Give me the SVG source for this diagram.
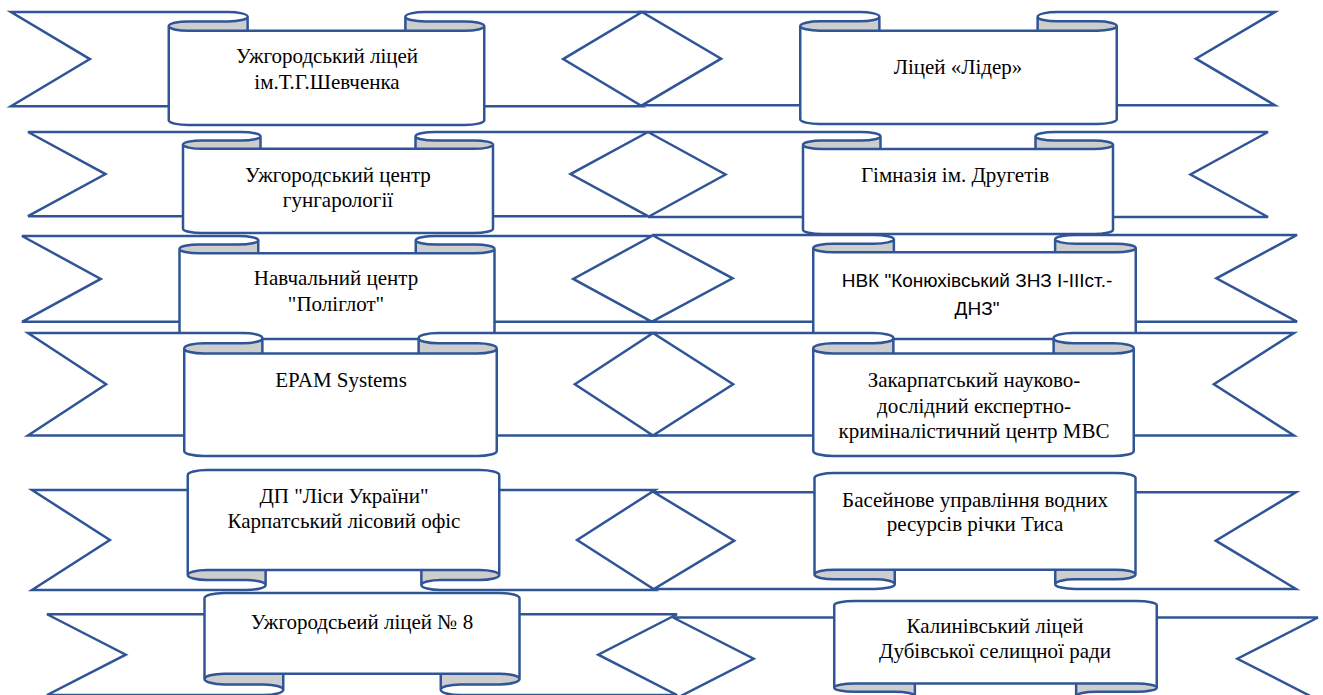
<svg xmlns="http://www.w3.org/2000/svg" xmlns:xlink="http://www.w3.org/1999/xlink" width="1323" height="695" viewBox="0 0 1323 695">
<style>
text{font-family:"Liberation Serif","Times New Roman",serif;font-size:21px;fill:#000;text-anchor:middle}
.sans{font-family:"Liberation Sans",Arial,sans-serif;font-size:19px}
</style>
<defs>
<g id="rd">
<path fill="#fff" stroke="none" d="M0,0 L275,0 A25,25 0 0 1 300,25 A25,25 0 0 1 275,50 L225,50 A25,25 0 0 0 200,75 A25,25 0 0 0 225,100 L575,100 A25,25 0 0 0 600,75 A25,25 0 0 0 575,50 L525,50 A25,25 0 0 1 500,25 A25,25 0 0 1 525,0 L800,0 L700,250 L800,500 L600,500 L600,575 A25,25 0 0 1 575,600 L225,600 A25,25 0 0 1 200,575 L200,500 L0,500 L100,250 Z"/>
<path fill="#cdcdcd" stroke="none" d="M300,25 A25,25 0 0 1 275,50 L225,50 A25,25 0 0 0 200,75 A25,25 0 0 0 225,100 L300,100 Z M500,25 A25,25 0 0 0 525,50 L575,50 A25,25 0 0 1 600,75 A25,25 0 0 1 575,100 L500,100 Z"/>
<path fill="none" stroke="#2f5597" stroke-width="2.5" vector-effect="non-scaling-stroke" d="M0,0 L275,0 A25,25 0 0 1 300,25 A25,25 0 0 1 275,50 L225,50 A25,25 0 0 0 200,75 A25,25 0 0 0 225,100 L575,100 A25,25 0 0 0 600,75 A25,25 0 0 0 575,50 L525,50 A25,25 0 0 1 500,25 A25,25 0 0 1 525,0 L800,0 L700,250 L800,500 L600,500 L600,575 A25,25 0 0 1 575,600 L225,600 A25,25 0 0 1 200,575 L200,500 L0,500 L100,250 Z M300,25 L300,100 M500,100 L500,25 M200,500 L200,75 M600,75 L600,500"/>
</g>
<g id="ru">
<path fill="#fff" stroke="none" d="M0,600 L275,600 A25,25 0 0 0 300,575 A25,25 0 0 0 275,550 L225,550 A25,25 0 0 1 200,525 A25,25 0 0 1 225,500 L575,500 A25,25 0 0 1 600,525 A25,25 0 0 1 575,550 L525,550 A25,25 0 0 0 500,575 A25,25 0 0 0 525,600 L800,600 L700,350 L800,100 L600,100 L600,25 A25,25 0 0 0 575,0 L225,0 A25,25 0 0 0 200,25 L200,100 L0,100 L100,350 Z"/>
<path fill="#cdcdcd" stroke="none" d="M300,575 A25,25 0 0 0 275,550 L225,550 A25,25 0 0 1 200,525 A25,25 0 0 1 225,500 L300,500 Z M500,575 A25,25 0 0 1 525,550 L575,550 A25,25 0 0 0 600,525 A25,25 0 0 0 575,500 L500,500 Z"/>
<path fill="none" stroke="#2f5597" stroke-width="2.5" vector-effect="non-scaling-stroke" d="M0,600 L275,600 A25,25 0 0 0 300,575 A25,25 0 0 0 275,550 L225,550 A25,25 0 0 1 200,525 A25,25 0 0 1 225,500 L575,500 A25,25 0 0 1 600,525 A25,25 0 0 1 575,550 L525,550 A25,25 0 0 0 500,575 A25,25 0 0 0 525,600 L800,600 L700,350 L800,100 L600,100 L600,25 A25,25 0 0 0 575,0 L225,0 A25,25 0 0 0 200,25 L200,100 L0,100 L100,350 Z M300,500 L300,575 M500,575 L500,500 M200,525 L200,100 M600,100 L600,525"/>
</g>
<g id="ru2">
<path fill="#fff" stroke="none" d="M0,600 L275,600 A25,31.25 0 0 0 300,568.75 A25,31.25 0 0 0 275,537.5 L225,537.5 A25,31.25 0 0 1 200,506.25 A25,31.25 0 0 1 225,475 L575,475 A25,31.25 0 0 1 600,506.25 A25,31.25 0 0 1 575,537.5 L525,537.5 A25,31.25 0 0 0 500,568.75 A25,31.25 0 0 0 525,600 L800,600 L700,362.5 L800,125 L600,125 L600,31.25 A25,31.25 0 0 0 575,0 L225,0 A25,31.25 0 0 0 200,31.25 L200,125 L0,125 L100,362.5 Z"/>
<path fill="#cdcdcd" stroke="none" d="M300,568.75 A25,31.25 0 0 0 275,537.5 L225,537.5 A25,31.25 0 0 1 200,506.25 A25,31.25 0 0 1 225,475 L300,475 Z M500,568.75 A25,31.25 0 0 1 525,537.5 L575,537.5 A25,31.25 0 0 0 600,506.25 A25,31.25 0 0 0 575,475 L500,475 Z"/>
<path fill="none" stroke="#2f5597" stroke-width="2.5" vector-effect="non-scaling-stroke" d="M0,600 L275,600 A25,31.25 0 0 0 300,568.75 A25,31.25 0 0 0 275,537.5 L225,537.5 A25,31.25 0 0 1 200,506.25 A25,31.25 0 0 1 225,475 L575,475 A25,31.25 0 0 1 600,506.25 A25,31.25 0 0 1 575,537.5 L525,537.5 A25,31.25 0 0 0 500,568.75 A25,31.25 0 0 0 525,600 L800,600 L700,362.5 L800,125 L600,125 L600,31.25 A25,31.25 0 0 0 575,0 L225,0 A25,31.25 0 0 0 200,31.25 L200,125 L0,125 L100,362.5 Z M300,475 L300,568.75 M500,568.75 L500,475 M200,506.25 L200,125 M600,125 L600,506.25"/>
</g>
</defs>
<rect width="1323" height="695" fill="#fff"/>
<g id="connectors"/>
<g id="n1"><use href="#rd" xlink:href="#rd" transform="translate(11,12) scale(0.78875,0.18833)"/><text x="327" y="63">Ужгородський ліцей</text><text x="327" y="89">ім.Т.Г.Шевченка</text></g>
<g id="n2"><use href="#rd" xlink:href="#rd" transform="translate(642,12) scale(0.79125,0.18667)"/><text x="958" y="74">Ліцей «Лідер»</text></g>
<g id="n3"><use href="#rd" xlink:href="#rd" transform="translate(28,132) scale(0.775,0.16833)"/><text x="338" y="182">Ужгородський центр</text><text x="338" y="207">гунгарології</text></g>
<g id="n4"><use href="#rd" xlink:href="#rd" transform="translate(648,132) scale(0.775,0.17)"/><text x="955" y="182">Гімназія ім. Другетів</text></g>
<g id="n5"><use href="#rd" xlink:href="#rd" transform="translate(22,236) scale(0.7875,0.17167)"/><text x="336" y="285">Навчальний центр</text><text x="336" y="311">"Поліглот"</text></g>
<g id="n6"><use href="#rd" xlink:href="#rd" transform="translate(652,235) scale(0.80625,0.17333)"/><text class="sans" x="977" y="287">НВК "Конюхівський ЗНЗ І-ІІІст.-</text><text class="sans" x="977" y="315">ДНЗ"</text></g>
<g id="n7"><use href="#rd" xlink:href="#rd" transform="translate(28,333) scale(0.78125,0.205)"/><text x="341" y="387">EPAM Systems</text></g>
<g id="n8"><use href="#rd" xlink:href="#rd" transform="translate(653,333) scale(0.80125,0.205)"/><text x="974" y="387">Закарпатський науково-</text><text x="974" y="413">дослідний експертно-</text><text x="974" y="438">криміналістичний центр МВС</text></g>
<g id="n9"><use href="#ru" xlink:href="#ru" transform="translate(32,470) scale(0.77875,0.2)"/><text x="344" y="503">ДП "Ліси України"</text><text x="344" y="528">Карпатський лісовий офіс</text></g>
<g id="n10"><use href="#ru" xlink:href="#ru" transform="translate(654,473) scale(0.8025,0.19333)"/><text x="975" y="507">Басейнове управління водних</text><text x="975" y="531">ресурсів річки Тиса</text></g>
<g id="n11"><use href="#ru2" xlink:href="#ru2" transform="translate(47,593) scale(0.7875,0.17)"/><text x="362" y="629">Ужгородсьеий ліцей № 8</text></g>
<g id="n12"><use href="#ru" xlink:href="#ru" transform="translate(673,601) scale(0.80625,0.165)"/><text x="995" y="633">Калинівський ліцей</text><text x="995" y="658">Дубівської селищної ради</text></g>
</svg>
